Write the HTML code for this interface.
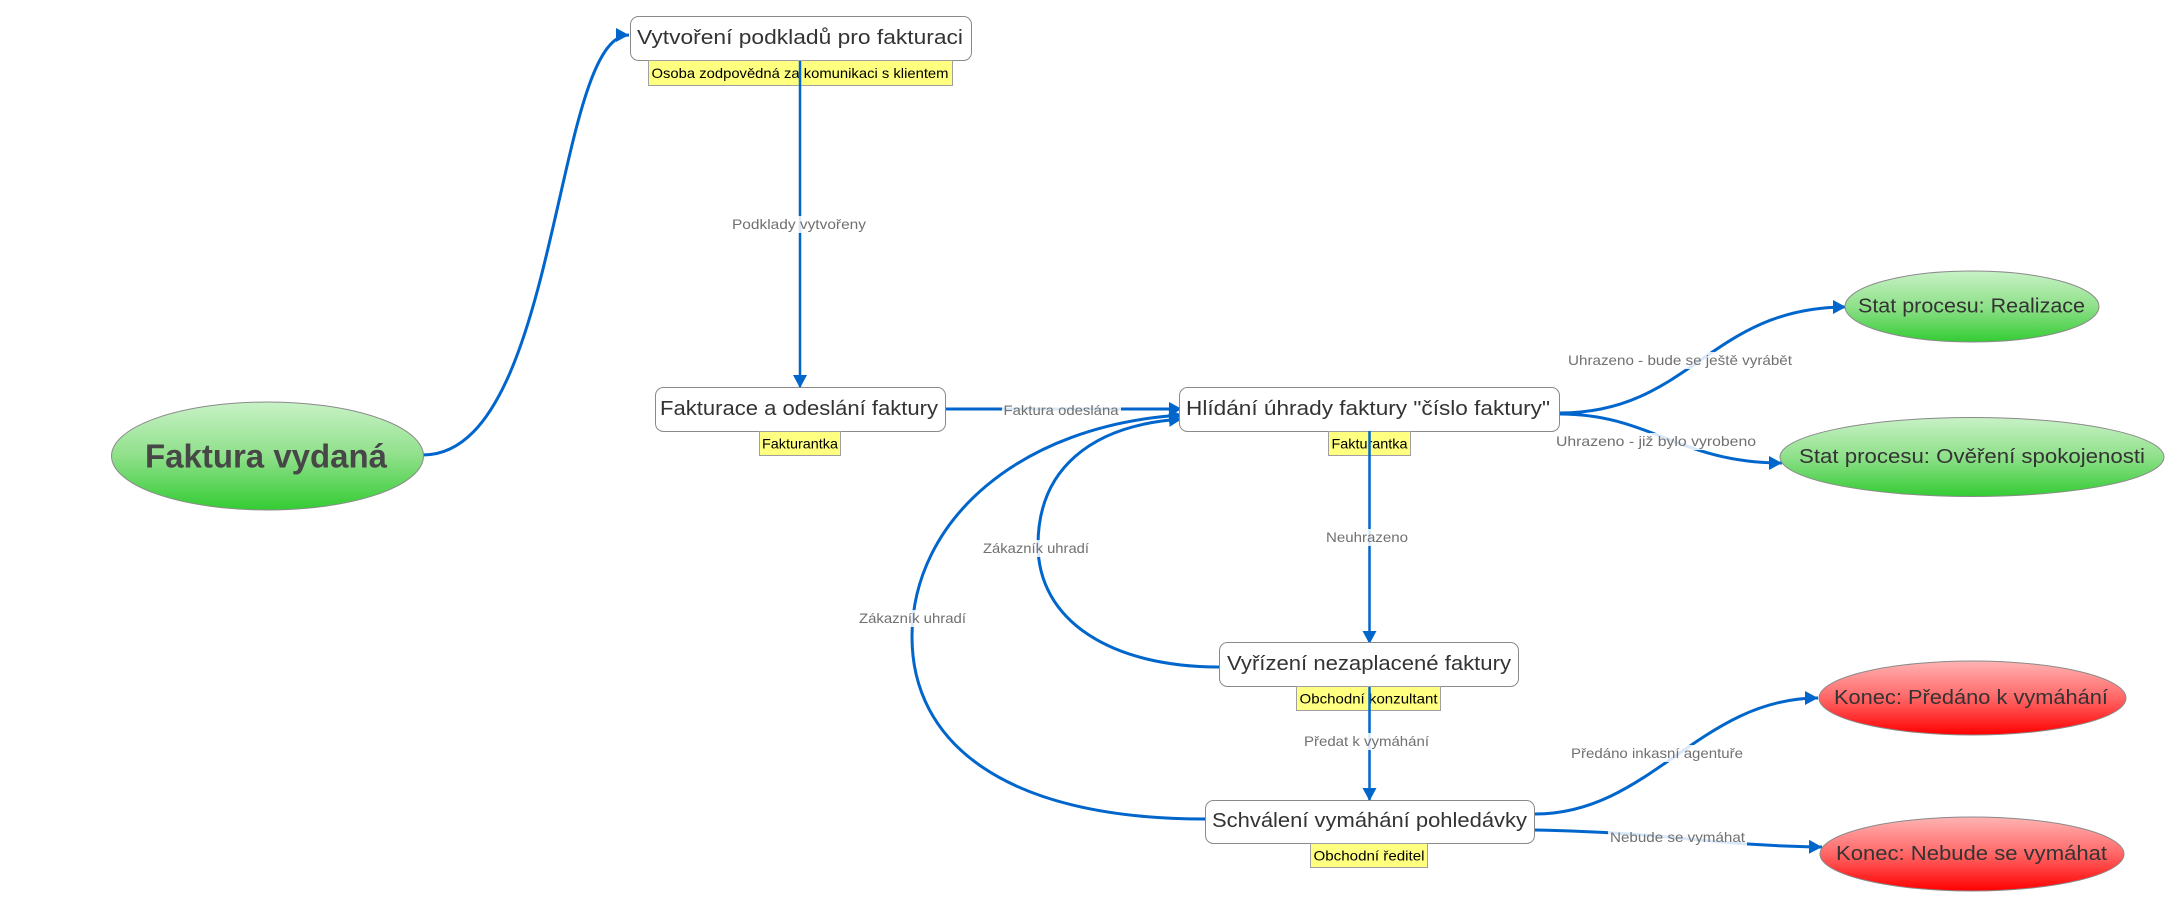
<!DOCTYPE html>
<html>
<head>
<meta charset="utf-8">
<style>
  html,body{margin:0;padding:0;background:#fff;}
  svg{display:block;}
  .bt{font-family:"Liberation Sans","DejaVu Sans",sans-serif;font-size:20px;fill:#333;}
  .lb{font-family:"Liberation Sans","DejaVu Sans",sans-serif;font-size:14px;fill:#707070;}
  .yl{font-family:"Liberation Sans","DejaVu Sans",sans-serif;font-size:14px;fill:#000;}
</style>
</head>
<body>
<svg width="2180" height="908" viewBox="0 0 2180 908" xmlns="http://www.w3.org/2000/svg">
  <defs>
    <linearGradient id="gg" x1="0" y1="0" x2="0" y2="1">
      <stop offset="0" stop-color="#c8f2c6"/>
      <stop offset="0.5" stop-color="#8fe08a"/>
      <stop offset="1" stop-color="#33cc33"/>
    </linearGradient>
    <linearGradient id="rg" x1="0" y1="0" x2="0" y2="1">
      <stop offset="0" stop-color="#ffb3b3"/>
      <stop offset="0.5" stop-color="#ff6666"/>
      <stop offset="1" stop-color="#ff0000"/>
    </linearGradient>
    <marker id="ar" markerUnits="userSpaceOnUse" markerWidth="16" markerHeight="16" refX="13" refY="7" orient="auto">
      <path d="M0,0 L13,7 L0,14 Z" fill="#0066cc"/>
    </marker>
  </defs>

  <!-- connectors -->
  <g fill="none" stroke="#0066cc" stroke-width="3">
    <path d="M423,455 C560,455 553,35 629,35" marker-end="url(#ar)"/>
    <path d="M800,61 L800,388" stroke-width="2.5" marker-end="url(#ar)"/>
    <path d="M946,409 L1182,409" marker-end="url(#ar)"/>
    <path d="M1369.5,431 L1369.5,644" stroke-width="2.5" marker-end="url(#ar)"/>
    <path d="M1369.5,687 L1369.5,801" stroke-width="2.5" marker-end="url(#ar)"/>
    <path d="M1560,413 C1690,413 1710,307 1846,307" marker-end="url(#ar)"/>
    <path d="M1560,414 C1650,414 1680,463 1782,463" marker-end="url(#ar)"/>
    <path d="M1535,814 C1650,814 1700,698 1818,698" marker-end="url(#ar)"/>
    <path d="M1535,830 C1680,833 1700,845 1822,847" marker-end="url(#ar)"/>
    <path d="M1205,819 C1000,819 912,740 912,637 C912,520 1020,425 1182,415" marker-end="url(#ar)"/>
    <path d="M1219,667 C1110,667 1038,620 1038,545 C1038,470 1090,425 1182,419" marker-end="url(#ar)"/>
  </g>

  <!-- connector labels -->
  <g>
    <rect x="730" y="216" width="138" height="17" fill="#fff" opacity="0.85"/>
    <text class="lb" x="799" y="224" text-anchor="middle" dominant-baseline="central" textLength="134" lengthAdjust="spacingAndGlyphs">Podklady vytvořeny</text>
    <rect x="1002" y="402" width="119" height="17" fill="#fff" opacity="0.85"/>
    <text class="lb" x="1061" y="410" text-anchor="middle" dominant-baseline="central" textLength="115" lengthAdjust="spacingAndGlyphs">Faktura odeslána</text>
    <rect x="1566" y="352" width="228" height="17" fill="#fff" opacity="0.85"/>
    <text class="lb" x="1680" y="360" text-anchor="middle" dominant-baseline="central" textLength="224" lengthAdjust="spacingAndGlyphs">Uhrazeno - bude se ještě vyrábět</text>
    <rect x="1554" y="433" width="204" height="17" fill="#fff" opacity="0.85"/>
    <text class="lb" x="1656" y="441" text-anchor="middle" dominant-baseline="central" textLength="200" lengthAdjust="spacingAndGlyphs">Uhrazeno  - již bylo vyrobeno</text>
    <rect x="1324" y="529" width="86" height="17" fill="#fff" opacity="0.85"/>
    <text class="lb" x="1367" y="537" text-anchor="middle" dominant-baseline="central" textLength="82" lengthAdjust="spacingAndGlyphs">Neuhrazeno</text>
    <rect x="981" y="540" width="110" height="17" fill="#fff" opacity="0.85"/>
    <text class="lb" x="1036" y="548" text-anchor="middle" dominant-baseline="central" textLength="106" lengthAdjust="spacingAndGlyphs">Zákazník uhradí</text>
    <rect x="857" y="610" width="111" height="17" fill="#fff" opacity="0.85"/>
    <text class="lb" x="912.5" y="618" text-anchor="middle" dominant-baseline="central" textLength="107" lengthAdjust="spacingAndGlyphs">Zákazník uhradí</text>
    <rect x="1302" y="733" width="129" height="17" fill="#fff" opacity="0.85"/>
    <text class="lb" x="1366.5" y="741" text-anchor="middle" dominant-baseline="central" textLength="125" lengthAdjust="spacingAndGlyphs">Předat k vymáhání</text>
    <rect x="1569" y="745" width="176" height="17" fill="#fff" opacity="0.85"/>
    <text class="lb" x="1657" y="753" text-anchor="middle" dominant-baseline="central" textLength="172" lengthAdjust="spacingAndGlyphs">Předáno inkasní agentuře</text>
    <rect x="1608" y="829" width="139" height="17" fill="#fff" opacity="0.85"/>
    <text class="lb" x="1677.5" y="837" text-anchor="middle" dominant-baseline="central" textLength="135" lengthAdjust="spacingAndGlyphs">Nebude se vymáhat</text>
  </g>

  <!-- root ellipse -->
  <ellipse cx="267.5" cy="456" rx="156" ry="54" fill="url(#gg)" stroke="#8a8a8a" stroke-width="1"/>
  <text x="266" y="456" text-anchor="middle" dominant-baseline="central" font-family="Liberation Sans, DejaVu Sans, sans-serif" font-size="33" font-weight="bold" fill="#474747" textLength="242" lengthAdjust="spacingAndGlyphs">Faktura vydaná</text>

  <!-- boxes -->
  <g fill="#fff" stroke="#8a8a8a" stroke-width="1">
    <rect x="630.5" y="16.5" width="341" height="44" rx="8"/>
    <rect x="655.5" y="387.5" width="290" height="44" rx="8"/>
    <rect x="1179.5" y="387.5" width="380" height="44" rx="8"/>
    <rect x="1219.5" y="642.5" width="299" height="44" rx="8"/>
    <rect x="1205.5" y="800.5" width="329" height="43" rx="8"/>
  </g>
  <text class="bt" x="800" y="38" text-anchor="middle" dominant-baseline="central" textLength="326" lengthAdjust="spacingAndGlyphs">Vytvoření podkladů pro fakturaci</text>
  <text class="bt" x="799" y="409" text-anchor="middle" dominant-baseline="central" textLength="278" lengthAdjust="spacingAndGlyphs">Fakturace a odeslání faktury</text>
  <text class="bt" x="1368" y="409" text-anchor="middle" dominant-baseline="central" textLength="364" lengthAdjust="spacingAndGlyphs">Hlídání úhrady faktury "číslo faktury"</text>
  <text class="bt" x="1369" y="664" text-anchor="middle" dominant-baseline="central" textLength="284" lengthAdjust="spacingAndGlyphs">Vyřízení nezaplacené faktury</text>
  <text class="bt" x="1369.5" y="821" text-anchor="middle" dominant-baseline="central" textLength="315" lengthAdjust="spacingAndGlyphs">Schválení vymáhání pohledávky</text>

  <!-- yellow labels -->
  <g fill="#ffff80" stroke="#a0a0a0" stroke-width="1">
    <rect x="648.5" y="60.5" width="304" height="25"/>
    <rect x="759.5" y="431.5" width="81" height="24"/>
    <rect x="1328.5" y="431.5" width="82" height="24"/>
    <rect x="1296.5" y="686.5" width="144" height="24"/>
    <rect x="1310.5" y="843.5" width="117" height="24"/>
  </g>
  <text class="yl" x="800" y="73" text-anchor="middle" dominant-baseline="central" textLength="297" lengthAdjust="spacingAndGlyphs">Osoba zodpovědná za komunikaci s klientem</text>
  <text class="yl" x="800" y="443.5" text-anchor="middle" dominant-baseline="central" textLength="76" lengthAdjust="spacingAndGlyphs">Fakturantka</text>
  <text class="yl" x="1369.5" y="443.5" text-anchor="middle" dominant-baseline="central" textLength="76" lengthAdjust="spacingAndGlyphs">Fakturantka</text>
  <text class="yl" x="1368.5" y="698.5" text-anchor="middle" dominant-baseline="central" textLength="138" lengthAdjust="spacingAndGlyphs">Obchodní konzultant</text>
  <text class="yl" x="1369" y="855.5" text-anchor="middle" dominant-baseline="central" textLength="111" lengthAdjust="spacingAndGlyphs">Obchodní ředitel</text>

  <!-- vertical lines over yellow labels -->
  <g stroke="#0066cc" stroke-width="2.5">
    <line x1="800" y1="61" x2="800" y2="86"/>
    <line x1="1369.5" y1="431" x2="1369.5" y2="456"/>
    <line x1="1369.5" y1="687" x2="1369.5" y2="711"/>
  </g>

  <!-- end ellipses -->
  <ellipse cx="1972" cy="306.5" rx="127" ry="35.5" fill="url(#gg)" stroke="#8a8a8a" stroke-width="1"/>
  <text class="bt" x="1971.5" y="306.5" text-anchor="middle" dominant-baseline="central" textLength="227" lengthAdjust="spacingAndGlyphs">Stat procesu: Realizace</text>
  <ellipse cx="1972" cy="457" rx="192" ry="39.5" fill="url(#gg)" stroke="#8a8a8a" stroke-width="1"/>
  <text class="bt" x="1972" y="457" text-anchor="middle" dominant-baseline="central" textLength="346" lengthAdjust="spacingAndGlyphs">Stat procesu: Ověření spokojenosti</text>
  <ellipse cx="1972.5" cy="698" rx="153.5" ry="37" fill="url(#rg)" stroke="#8a8a8a" stroke-width="1"/>
  <text class="bt" x="1971" y="698" text-anchor="middle" dominant-baseline="central" textLength="274" lengthAdjust="spacingAndGlyphs">Konec: Předáno k vymáhání</text>
  <ellipse cx="1972" cy="854" rx="152" ry="37" fill="url(#rg)" stroke="#8a8a8a" stroke-width="1"/>
  <text class="bt" x="1971.5" y="854" text-anchor="middle" dominant-baseline="central" textLength="271" lengthAdjust="spacingAndGlyphs">Konec: Nebude se vymáhat</text>
</svg>
</body>
</html>
